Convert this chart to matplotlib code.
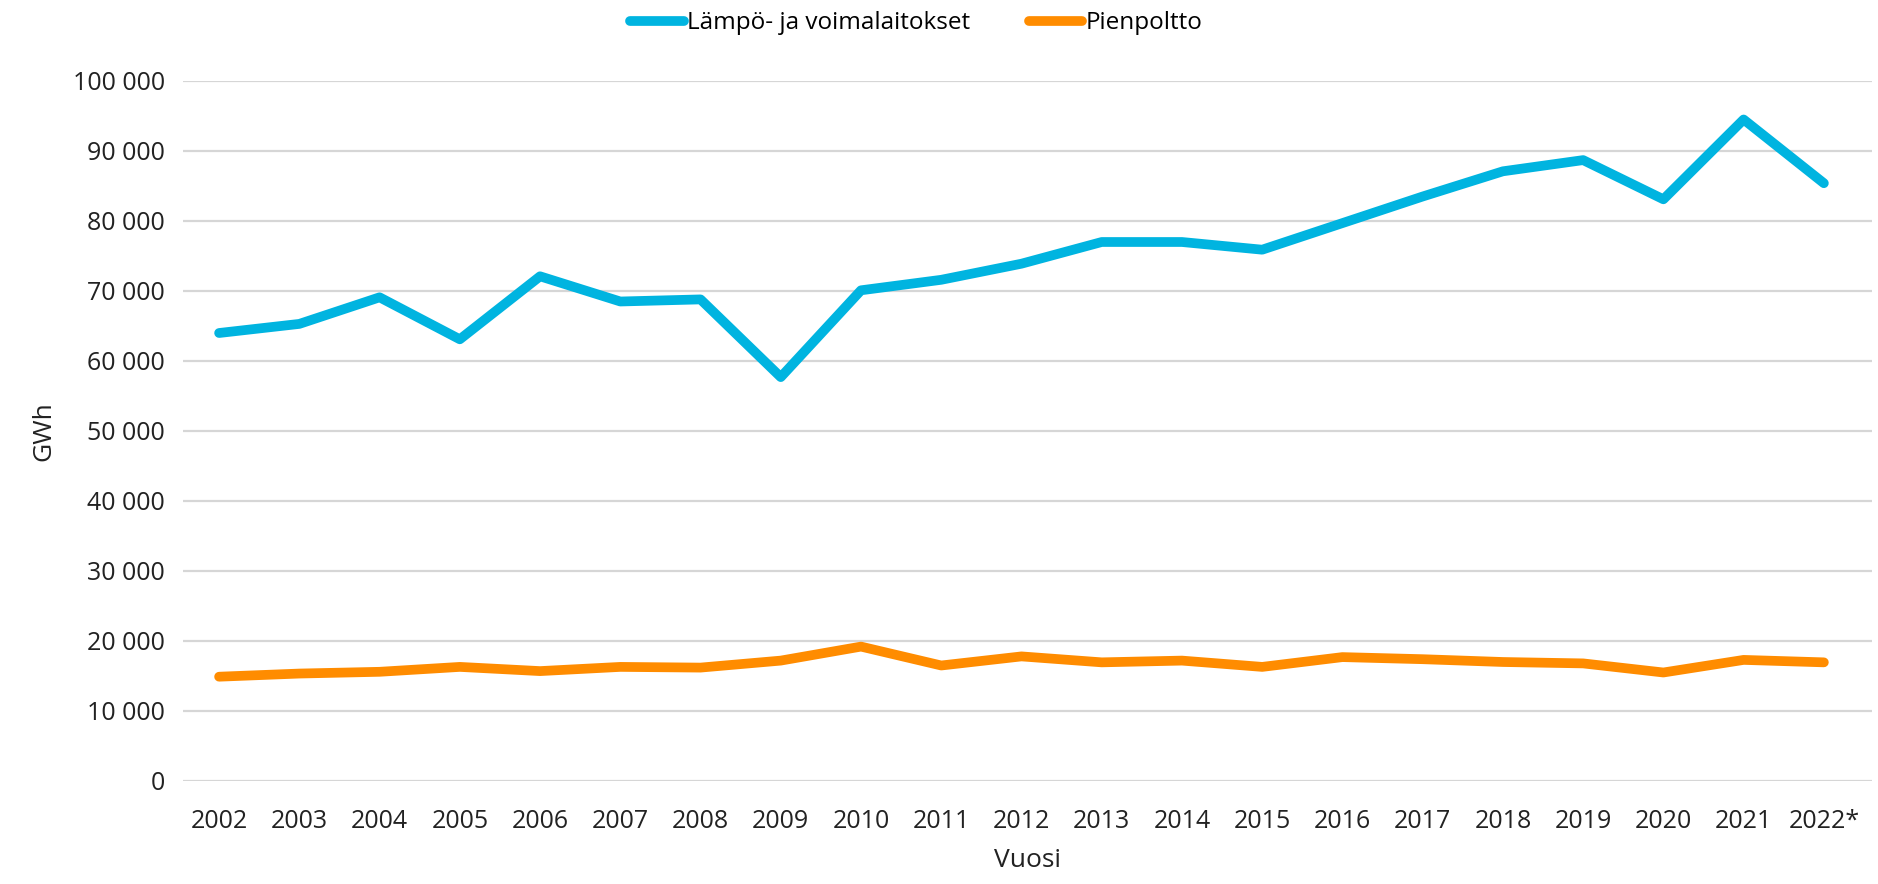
import matplotlib
matplotlib.use("Agg")
import matplotlib.pyplot as plt
from matplotlib.ticker import FuncFormatter, MultipleLocator

# data
years = [str(y) for y in range(2002, 2022)] + ["2022*"]
lampo = [64000, 65300, 69100, 63100, 72100, 68500, 68800, 57700, 70100, 71600,
         73900, 77000, 77000, 75900, 79700, 83500, 87100, 88700, 83100, 94500, 85400]
pienpoltto = [14900, 15350, 15600, 16300, 15700, 16300, 16200, 17200, 19200, 16500,
              17800, 16950, 17200, 16300, 17700, 17400, 17000, 16800, 15500, 17300, 16950]

plt.rcParams['font.family'] = ['Open Sans', 'DejaVu Sans']

fig = plt.figure(figsize=(18.78, 8.84), dpi=100)
ax = fig.add_axes([183/1878, 1 - 781/884, (1872-183)/1878, 700/884])

x = range(len(years))
ax.plot(x, lampo, color="#00B4E0", lw=7, label="Lämpö- ja voimalaitokset", solid_capstyle="round")
ax.plot(x, pienpoltto, color="#FF8C00", lw=7, label="Pienpoltto", solid_capstyle="round")

ax.set_ylim(0, 100000)
ax.set_xlim(-0.45, 20.6)
ax.yaxis.set_major_locator(MultipleLocator(10000))
ax.yaxis.set_major_formatter(FuncFormatter(lambda v, p: f"{int(v):,}".replace(",", " ")))
ax.set_xticks(list(x))
ax.set_xticklabels(years)
ax.grid(axis="y", color="#D6D6D6", lw=1.6)
ax.set_axisbelow(True)
for s in ax.spines.values():
    s.set_visible(False)
ax.tick_params(length=0, labelsize=18, colors="#222222")
ax.tick_params(axis="x", pad=20)
ax.tick_params(axis="y", pad=13)

ax.set_ylabel("GWh", fontsize=19, color="#222222", labelpad=12)
ax.set_xlabel("Vuosi", fontsize=19, color="#222222", labelpad=10)

fig.legend(loc="upper center", bbox_to_anchor=(0.488, 1.012), ncol=2, frameon=False,
           fontsize=17.5, handlelength=2.2, columnspacing=2.4, handletextpad=0.15)

fig.savefig("out.png", dpi=100)
